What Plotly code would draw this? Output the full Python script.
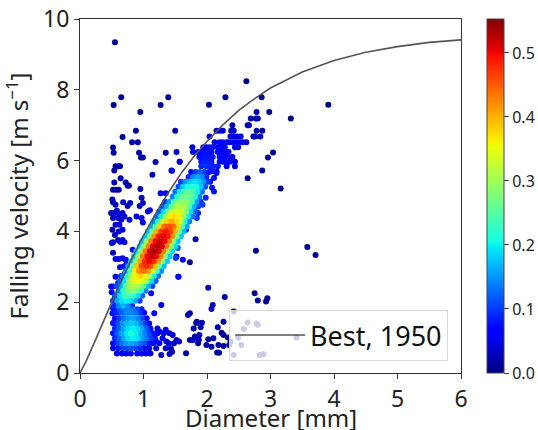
import plotly.graph_objects as go

# ---------------- data ----------------
# Best (1950) curve
best_d = [0, 0.1, 0.2, 0.3, 0.4, 0.5, 0.6, 0.8, 1.0, 1.2, 1.4, 1.6, 1.8, 2.0,
          2.25, 2.5, 2.75, 3.0, 3.5, 4.0, 4.5, 5.0, 5.5, 6.0]
best_v = [0, 0.35, 0.75, 1.17, 1.60, 2.00, 2.41, 3.17, 3.88, 4.53, 5.12, 5.66, 6.13, 6.54,
          7.01, 7.42, 7.75, 8.05, 8.50, 8.83, 9.06, 9.22, 9.34, 9.41]

# dense band (rows of equal velocity)
band_v = [1.90, 2.04, 2.18, 2.32, 2.46, 2.60, 2.74, 2.88, 3.02, 3.16, 3.30, 3.44, 3.58, 3.72,
          3.86, 4.00, 4.14, 4.28, 4.42, 4.56, 4.70, 4.84, 4.98, 5.12, 5.26, 5.40, 5.54, 5.68]
band_d = [
    [0.54, 0.61, 0.68, 0.75, 0.82],
    [0.52, 0.59, 0.66, 0.73, 0.80, 0.87, 0.94],
    [0.56, 0.63, 0.70, 0.77, 0.84, 0.91, 0.98],
    [0.61, 0.68, 0.75, 0.82, 0.89, 0.96, 1.03],
    [0.58, 0.65, 0.72, 0.79, 0.86, 0.93, 1.00, 1.07, 1.14],
    [0.63, 0.70, 0.77, 0.84, 0.91, 0.98, 1.05, 1.12, 1.19],
    [0.67, 0.74, 0.81, 0.88, 0.95, 1.02, 1.09, 1.16, 1.23],
    [0.72, 0.79, 0.86, 0.93, 1.00, 1.07, 1.14, 1.21, 1.28],
    [0.76, 0.83, 0.90, 0.97, 1.04, 1.11, 1.18, 1.25, 1.32],
    [0.81, 0.88, 0.95, 1.02, 1.09, 1.16, 1.23, 1.30, 1.37],
    [0.85, 0.92, 0.99, 1.06, 1.13, 1.20, 1.27, 1.34, 1.41],
    [0.89, 0.96, 1.03, 1.10, 1.17, 1.24, 1.31, 1.38, 1.45],
    [0.94, 1.01, 1.08, 1.15, 1.22, 1.29, 1.36, 1.43, 1.50],
    [0.98, 1.05, 1.12, 1.19, 1.26, 1.33, 1.40, 1.47, 1.54],
    [1.03, 1.10, 1.17, 1.24, 1.31, 1.38, 1.45, 1.52, 1.59],
    [1.07, 1.14, 1.21, 1.28, 1.35, 1.42, 1.49, 1.56, 1.63],
    [1.12, 1.19, 1.26, 1.33, 1.40, 1.47, 1.54, 1.61, 1.68],
    [1.16, 1.23, 1.30, 1.37, 1.44, 1.51, 1.58, 1.65, 1.72],
    [1.21, 1.28, 1.35, 1.42, 1.49, 1.56, 1.63, 1.70, 1.77],
    [1.25, 1.32, 1.39, 1.46, 1.53, 1.60, 1.67, 1.74, 1.81],
    [1.30, 1.37, 1.44, 1.51, 1.58, 1.65, 1.72, 1.79, 1.86],
    [1.34, 1.41, 1.48, 1.55, 1.62, 1.69, 1.76, 1.83, 1.90],
    [1.46, 1.53, 1.60, 1.67, 1.74, 1.81, 1.88],
    [1.50, 1.57, 1.64, 1.71, 1.78, 1.85, 1.92],
    [1.55, 1.62, 1.69, 1.76, 1.83, 1.90, 1.97],
    [1.59, 1.66, 1.73, 1.80, 1.87, 1.94, 2.01],
    [1.71, 1.78, 1.85, 1.92, 1.99],
    [1.75, 1.82, 1.89, 1.96, 2.03],
]
band_c = [
    [0.09, 0.14, 0.17, 0.14, 0.09],
    [0.10, 0.16, 0.19, 0.20, 0.19, 0.16, 0.10],
    [0.12, 0.19, 0.23, 0.24, 0.23, 0.19, 0.12],
    [0.14, 0.22, 0.27, 0.28, 0.27, 0.22, 0.14],
    [0.11, 0.17, 0.25, 0.30, 0.31, 0.30, 0.25, 0.17, 0.11],
    [0.12, 0.19, 0.29, 0.34, 0.35, 0.34, 0.29, 0.19, 0.12],
    [0.13, 0.21, 0.31, 0.36, 0.38, 0.36, 0.31, 0.21, 0.13],
    [0.15, 0.24, 0.36, 0.42, 0.44, 0.42, 0.36, 0.24, 0.15],
    [0.17, 0.26, 0.39, 0.46, 0.48, 0.46, 0.39, 0.26, 0.17],
    [0.18, 0.28, 0.41, 0.48, 0.50, 0.48, 0.41, 0.28, 0.18],
    [0.18, 0.29, 0.43, 0.50, 0.52, 0.50, 0.43, 0.29, 0.18],
    [0.19, 0.29, 0.43, 0.51, 0.53, 0.51, 0.43, 0.29, 0.19],
    [0.19, 0.29, 0.43, 0.51, 0.53, 0.51, 0.43, 0.29, 0.19],
    [0.18, 0.29, 0.43, 0.50, 0.52, 0.50, 0.43, 0.29, 0.18],
    [0.18, 0.28, 0.42, 0.49, 0.51, 0.49, 0.42, 0.28, 0.18],
    [0.17, 0.27, 0.40, 0.47, 0.49, 0.47, 0.40, 0.27, 0.17],
    [0.16, 0.25, 0.38, 0.44, 0.46, 0.44, 0.38, 0.25, 0.16],
    [0.14, 0.22, 0.33, 0.38, 0.40, 0.38, 0.33, 0.22, 0.14],
    [0.13, 0.20, 0.30, 0.36, 0.37, 0.36, 0.30, 0.20, 0.13],
    [0.12, 0.19, 0.28, 0.33, 0.34, 0.33, 0.28, 0.19, 0.12],
    [0.11, 0.17, 0.25, 0.30, 0.31, 0.30, 0.25, 0.17, 0.11],
    [0.10, 0.16, 0.24, 0.28, 0.29, 0.28, 0.24, 0.16, 0.10],
    [0.14, 0.22, 0.26, 0.27, 0.26, 0.22, 0.14],
    [0.13, 0.20, 0.24, 0.25, 0.24, 0.20, 0.13],
    [0.11, 0.18, 0.21, 0.22, 0.21, 0.18, 0.11],
    [0.10, 0.15, 0.18, 0.19, 0.18, 0.15, 0.10],
    [0.09, 0.14, 0.16, 0.14, 0.09],
    [0.07, 0.10, 0.12, 0.10, 0.07],
]

# small-drop cluster (rows of equal velocity)
low_v = [0.55, 0.70, 0.84, 0.98, 1.12, 1.26, 1.40, 1.55, 1.70, 1.80]
low_d = [
    [0.58, 0.66, 0.73, 0.80, 0.90, 0.97, 1.04, 1.11],
    [0.52, 0.60, 0.67, 0.74, 0.81, 0.88, 0.95, 1.02, 1.09, 1.20, 1.35, 1.43],
    [0.52, 0.59, 0.66, 0.73, 0.80, 0.87, 0.94, 1.01, 1.08, 1.15, 1.40, 1.48],
    [0.55, 0.62, 0.69, 0.76, 0.83, 0.90, 0.97, 1.04, 1.11, 1.18, 1.30],
    [0.52, 0.59, 0.66, 0.73, 0.80, 0.87, 0.94, 1.01, 1.08, 1.15, 1.22, 1.32],
    [0.55, 0.62, 0.69, 0.76, 0.83, 0.90, 0.97, 1.04, 1.11, 1.22],
    [0.53, 0.60, 0.67, 0.74, 0.81, 0.88, 0.95, 1.02, 1.09],
    [0.55, 0.62, 0.69, 0.76, 0.83, 0.90, 0.97, 1.05],
    [0.59, 0.66, 0.73, 0.80, 0.87, 0.94, 1.01],
    [0.55, 0.62, 0.69, 0.76, 0.83, 0.90, 0.97],
]
low_c = [
    [0.05, 0.06, 0.07, 0.07, 0.07, 0.07, 0.06, 0.05],
    [0.06, 0.08, 0.10, 0.11, 0.11, 0.10, 0.09, 0.07, 0.06, 0.04, 0.04, 0.03],
    [0.07, 0.10, 0.13, 0.15, 0.16, 0.15, 0.13, 0.11, 0.08, 0.06, 0.04, 0.03],
    [0.09, 0.12, 0.16, 0.19, 0.20, 0.19, 0.16, 0.13, 0.10, 0.08, 0.05],
    [0.08, 0.12, 0.16, 0.19, 0.21, 0.20, 0.17, 0.14, 0.11, 0.08, 0.06, 0.05],
    [0.09, 0.12, 0.16, 0.19, 0.20, 0.19, 0.16, 0.12, 0.08, 0.05],
    [0.08, 0.11, 0.15, 0.17, 0.18, 0.17, 0.14, 0.10, 0.07],
    [0.07, 0.10, 0.13, 0.15, 0.16, 0.14, 0.11, 0.07],
    [0.09, 0.12, 0.14, 0.14, 0.13, 0.10, 0.07],
    [0.08, 0.11, 0.13, 0.14, 0.13, 0.11, 0.08],
]

# upper-right grid of large drops (rows of equal velocity)
grid_v = [7.19, 7.00, 6.84, 6.68, 6.52, 6.38, 6.24, 6.10, 5.97, 5.84, 5.70]
grid_d = [
    [2.69, 2.77, 2.80],
    [2.40, 2.64, 2.66],
    [2.15, 2.20, 2.25, 2.38, 2.42],
    [2.04, 2.37, 2.43, 2.48, 2.53, 2.73, 2.76, 2.84],
    [2.12, 2.20, 2.25, 2.31, 2.36, 2.41, 2.46, 2.52, 2.57, 2.62],
    [1.77, 1.94, 1.99, 2.04, 2.09, 2.17, 2.23, 2.28, 2.44, 2.49],
    [1.78, 1.86, 1.91, 1.96, 2.02, 2.07, 2.17, 2.23, 2.31, 2.34],
    [1.88, 1.94, 1.99, 2.04, 2.09, 2.20, 2.25, 2.28, 2.33, 2.40],
    [1.91, 1.96, 2.02, 2.07, 2.20, 2.26, 2.33, 2.36, 2.44],
    [1.91, 1.99, 2.04, 2.09, 2.17, 2.31, 2.44],
    [2.09, 2.15],
]
grid_c = [
    [0.02, 0.02, 0.02],
    [0.025, 0.03, 0.03],
    [0.04, 0.04, 0.045, 0.035, 0.035],
    [0.04, 0.05, 0.05, 0.05, 0.045, 0.03, 0.03, 0.025],
    [0.05, 0.055, 0.06, 0.06, 0.06, 0.06, 0.055, 0.05, 0.045, 0.04],
    [0.04, 0.06, 0.065, 0.07, 0.07, 0.07, 0.065, 0.06, 0.05, 0.045],
    [0.05, 0.06, 0.07, 0.075, 0.075, 0.075, 0.07, 0.065, 0.06, 0.055],
    [0.07, 0.075, 0.08, 0.08, 0.08, 0.075, 0.07, 0.065, 0.06, 0.05],
    [0.08, 0.085, 0.085, 0.085, 0.075, 0.07, 0.06, 0.055, 0.045],
    [0.09, 0.095, 0.09, 0.085, 0.08, 0.06, 0.04],
    [0.08, 0.07],
]

# isolated drops
sparse_d = [0.55, 0.53, 0.65, 0.95, 1.27, 1.39, 2.03, 2.62, 2.29, 2.86,
            3.32, 3.91, 0.67, 0.88, 0.82, 0.91, 1.50, 0.52, 0.53, 0.93,
            0.96, 0.99, 1.19, 1.35, 1.52, 1.57, 1.44, 1.14, 2.64, 2.87,
            2.96, 3.04, 3.16, 2.78, 2.98, 2.87, 2.78, 3.58, 3.71, 2.77,
            1.82, 2.02, 2.75, 2.80, 2.95, 2.93, 2.28, 2.42, 2.09, 2.07,
            1.73]
sparse_v = [9.34, 7.57, 7.79, 7.37, 7.57, 7.79, 7.58, 8.24, 7.79, 7.79,
            7.19, 7.58, 6.67, 6.84, 6.52, 6.52, 6.84, 6.37, 6.22, 6.22,
            6.09, 6.09, 5.96, 6.22, 6.24, 5.97, 5.72, 5.60, 5.50, 5.72,
            6.09, 6.23, 5.21, 7.37, 7.37, 6.84, 6.84, 3.56, 3.33, 3.45,
            3.78, 2.41, 2.25, 2.05, 2.11, 2.02, 2.15, 1.74, 1.92, 1.81,
            3.13]
sparse_c = [0.005, 0.01, 0.01, 0.01, 0.01, 0.01, 0.01, 0.005, 0.01, 0.01,
            0.005, 0.005, 0.015, 0.015, 0.02, 0.02, 0.02, 0.015, 0.015, 0.02,
            0.02, 0.02, 0.02, 0.02, 0.03, 0.03, 0.03, 0.025, 0.01, 0.015,
            0.015, 0.01, 0.005, 0.015, 0.01, 0.02, 0.02, 0.005, 0.005, 0.01,
            0.015, 0.02, 0.015, 0.015, 0.01, 0.01, 0.02, 0.02, 0.03, 0.03,
            0.02]

# drops to the lower right of the clusters
right_d = [1.84, 1.92, 1.79, 1.90, 2.02, 2.10, 1.88, 1.73, 2.17, 2.26,
           2.23, 2.26, 2.18, 2.26, 2.19, 1.78, 1.86, 1.67, 1.70, 1.73,
           1.83, 1.87, 1.81, 2.16, 1.99, 2.07, 1.25, 1.35, 1.41, 1.46,
           1.20, 1.25, 1.36, 1.52, 1.56, 1.28, 1.41, 1.45, 1.12, 1.28,
           1.17, 1.55, 1.52,
           2.64, 2.78, 2.58, 2.33, 2.49, 2.54, 2.42, 2.83, 2.89, 3.41,
           2.37, 2.35, 2.80]
right_v = [1.45, 1.42, 1.26, 1.29, 0.95, 0.98, 1.07, 0.93, 1.29, 1.45,
           1.14, 1.07, 0.79, 0.76, 0.57, 0.93, 0.84, 0.56, 1.64, 1.69,
           1.41, 0.93, 1.03, 0.58, 0.79, 0.74, 1.17, 1.22, 1.12, 1.07,
           0.89, 0.84, 0.89, 0.93, 0.89, 0.51, 0.54, 0.60, 2.25, 1.92,
           1.69, 2.72, 3.29,
           1.43, 1.40, 1.24, 1.00, 1.00, 0.79, 0.51, 0.51, 0.53, 1.00,
           0.89, 0.79, 1.36]
right_c = [0.02, 0.02, 0.025, 0.02, 0.02, 0.02, 0.025, 0.03, 0.015, 0.015,
           0.015, 0.015, 0.015, 0.015, 0.015, 0.03, 0.025, 0.02, 0.02, 0.02,
           0.02, 0.025, 0.025, 0.01, 0.02, 0.02, 0.05, 0.045, 0.04, 0.035,
           0.05, 0.05, 0.04, 0.03, 0.03, 0.03, 0.025, 0.025, 0.06, 0.045,
           0.06, 0.03, 0.035,
           0.01, 0.01, 0.01, 0.01, 0.01, 0.01, 0.01, 0.01, 0.01, 0.01,
           0.01, 0.01, 0.01]

# drops along the edges of the dense band
edge_d = [2.11, 2.15, 2.11, 2.08, 1.86, 1.84, 1.67, 1.54, 1.51, 1.55,
          1.27, 1.35, 1.45, 1.57, 0.97, 1.93, 1.98, 2.05, 1.62, 1.10]
edge_v = [5.51, 5.65, 5.13, 5.23, 4.52, 4.38, 4.05, 3.53, 3.25, 2.72,
          5.08, 5.08, 5.71, 5.97, 4.95, 4.75, 4.95, 5.40, 3.20, 4.60]
edge_c = [0.07, 0.06, 0.08, 0.08, 0.09, 0.10, 0.10, 0.12, 0.10, 0.06,
          0.05, 0.06, 0.06, 0.04, 0.03, 0.10, 0.09, 0.07, 0.07, 0.05]

# small, fast drops on the left
left_d = [0.54, 0.72, 0.77, 0.52, 0.57, 0.61, 0.95, 0.56, 0.60, 0.63,
          0.54, 0.64, 0.75, 0.52, 0.56, 0.68, 0.75, 0.79, 0.94, 0.99,
          0.49, 0.54, 0.58, 0.62, 0.67, 0.52, 0.60, 0.65, 0.70, 0.78,
          0.89, 0.97, 0.99, 1.07, 0.56, 0.62, 0.67, 0.61, 0.52, 0.60,
          0.63, 0.67, 0.70, 0.83, 0.56, 0.61, 0.67, 0.72, 0.63, 0.69,
          0.73, 0.56, 0.65, 0.70, 0.52, 0.60, 0.67, 0.51, 0.51, 0.50,
          0.49, 0.52, 0.52, 0.54, 0.51, 0.50, 0.55, 0.58, 0.52, 0.55]
left_v = [5.38, 5.38, 5.29, 5.18, 5.18, 5.18, 5.20, 5.84, 5.84, 5.84,
          5.72, 5.50, 5.30, 4.82, 4.75, 4.82, 4.72, 4.80, 4.72, 4.80,
          4.52, 4.52, 4.58, 4.49, 4.52, 4.38, 4.38, 4.33, 4.42, 4.33,
          4.42, 4.38, 4.25, 4.56, 4.19, 4.19, 4.05, 4.00, 3.69, 3.76,
          3.71, 3.76, 3.69, 3.48, 3.22, 3.22, 3.24, 3.20, 2.99, 3.01,
          3.06, 2.72, 2.74, 2.80, 2.44, 2.54, 2.44, 4.90, 4.05, 3.67,
          2.44, 1.83, 1.41, 1.12, 1.69, 2.28, 2.15, 2.05, 3.40, 3.90]
left_c = [0.02, 0.02, 0.02, 0.02, 0.02, 0.02, 0.02, 0.02, 0.02, 0.02,
          0.02, 0.02, 0.02, 0.03, 0.03, 0.03, 0.03, 0.03, 0.03, 0.03,
          0.03, 0.035, 0.035, 0.035, 0.035, 0.035, 0.035, 0.035, 0.035, 0.04,
          0.04, 0.05, 0.05, 0.04, 0.035, 0.04, 0.045, 0.04, 0.035, 0.04,
          0.04, 0.045, 0.05, 0.06, 0.04, 0.045, 0.05, 0.06, 0.05, 0.06,
          0.07, 0.05, 0.07, 0.08, 0.06, 0.08, 0.10, 0.025, 0.03, 0.035,
          0.05, 0.08, 0.07, 0.07, 0.08, 0.07, 0.09, 0.10, 0.03, 0.03]

x_ticks = [0, 1, 2, 3, 4, 5, 6]
y_ticks = [0, 2, 4, 6, 8, 10]
cbar_ticks = [0.0, 0.1, 0.2, 0.3, 0.4, 0.5]
density_max = 0.553

# ---------------- assemble points ----------------
pts = []
for rows_v, rows_d, rows_c in [(band_v, band_d, band_c), (low_v, low_d, low_c), (grid_v, grid_d, grid_c)]:
    for v, ds, cs in zip(rows_v, rows_d, rows_c):
        for d, c in zip(ds, cs):
            pts.append((d, v, c))
for ds, vs, cs in [(sparse_d, sparse_v, sparse_c), (right_d, right_v, right_c),
                   (edge_d, edge_v, edge_c), (left_d, left_v, left_c)]:
    for d, v, c in zip(ds, vs, cs):
        pts.append((d, v, c))
pts.sort(key=lambda p: p[2])
all_d = [p[0] for p in pts]
all_v = [p[1] for p in pts]
all_c = [p[2] for p in pts]

# matplotlib "jet"
jet = [
    [0.0, "rgb(0,0,128)"], [0.11, "rgb(0,0,255)"], [0.125, "rgb(0,0,255)"],
    [0.34, "rgb(0,219,255)"], [0.35, "rgb(0,229,247)"], [0.375, "rgb(21,255,226)"],
    [0.64, "rgb(239,255,8)"], [0.65, "rgb(247,245,0)"], [0.66, "rgb(255,236,0)"],
    [0.89, "rgb(255,19,0)"], [0.91, "rgb(232,0,0)"], [1.0, "rgb(128,0,0)"],
]

FONT = "Noto Sans, DejaVu Sans, sans-serif"

fig = go.Figure()
fig.add_trace(go.Scatter(
    x=all_d, y=all_v, mode="markers", showlegend=False, hoverinfo="skip",
    marker=dict(size=6, color=all_c, colorscale=jet, cmin=0, cmax=density_max,
                line=dict(width=0),
                colorbar=dict(
                    x=1.068, xanchor="left", xpad=0, ypad=0, y=0.5, yanchor="middle", len=1.0,
                    thickness=17, outlinewidth=1, outlinecolor="#444",
                    tickvals=cbar_ticks, ticktext=[f"{t:.1f}" for t in cbar_ticks],
                    ticks="outside", ticklen=5, tickcolor="#444",
                    tickfont=dict(family=FONT, size=16, color="#222"),
                )),
))
fig.add_trace(go.Scatter(
    x=best_d, y=best_v, mode="lines", name="Best, 1950",
    line=dict(color="#555555", width=1.6), hoverinfo="skip",
))

axis_common = dict(showline=True, mirror=True, linecolor="#333", linewidth=1,
                   ticks="outside", ticklen=5, tickcolor="#333", showgrid=False,
                   zeroline=False, automargin=False,
                   tickfont=dict(family=FONT, size=23, color="#222"))
fig.update_xaxes(range=[0, 6], tickvals=x_ticks, **axis_common)
fig.update_yaxes(range=[0, 10], tickvals=y_ticks, title=dict(text="Falling velocity [m s<sup>−1</sup>]",
                 font=dict(family=FONT, size=24, color="#222")), **axis_common)

# x-axis title placed as a paper annotation so it sits below the tick labels
fig.add_annotation(text="Diameter [mm]", xref="paper", yref="paper", x=0.5, y=0,
                   xanchor="center", yanchor="middle", yshift=-44, showarrow=False,
                   font=dict(family=FONT, size=24, color="#222"))

fig.update_layout(
    width=538, height=430,
    margin=dict(l=80, r=77, t=19, b=57, autoexpand=False),
    paper_bgcolor="white", plot_bgcolor="white",
    font=dict(family=FONT, color="#222"),
    legend=dict(x=0.966, y=0.034, xanchor="right", yanchor="bottom", itemwidth=70,
                bgcolor="rgba(255,255,255,0.8)", bordercolor="#d6d6d6", borderwidth=1,
                font=dict(family=FONT, size=27, color="#111")),
)

# remove the page's default 8 px body margin so the figure sits at the window origin
fig.write_html("out.html", config={"displayModeBar": False},
               post_script="document.body.style.margin='0';document.body.style.overflow='hidden';")
